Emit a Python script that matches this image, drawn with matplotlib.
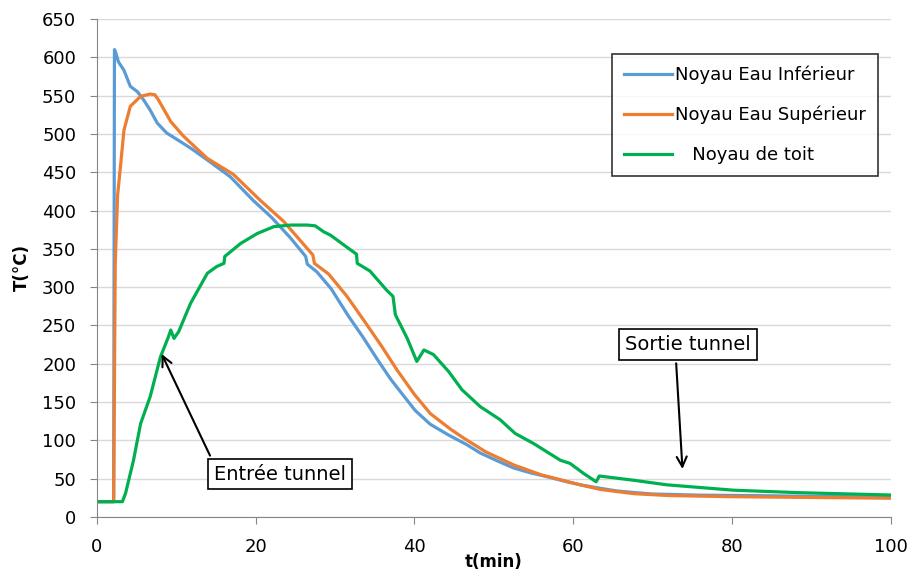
import matplotlib.pyplot as plt

# time (min) / temperature (degC)
t_inf = [0, 2.1, 2.2, 2.3, 2.7, 3.4, 4.2, 5.1, 5.9, 6.7, 7.6, 8.8, 10.5, 12.0, 13.9, 16.8,
         19.7, 22.0, 24.4, 26.3, 26.5, 27.7, 29.5, 31.7, 33.5, 35.5, 37.0, 38.5, 40.1, 42.0,
         44.3, 46.5, 48.3, 50.5, 52.5, 54.5, 56.7, 59.2, 61.0, 63.4, 65.5, 67.6, 70, 76, 82,
         90, 100]
T_inf = [20, 20, 610, 608, 594, 583, 562, 555, 544, 531, 514, 501, 490, 480, 466, 444,
         413, 391, 364, 340, 330, 320, 298, 262, 235, 203, 180, 160, 139, 121,
         107, 95, 83.5, 73, 64, 58, 52.6, 46, 41.8, 37.5, 34, 32, 30, 28.5, 28,
         27, 26]

t_sup = [0, 2.1, 2.3, 2.6, 3.0, 3.4, 4.2, 5.5, 6.7, 7.3, 7.7, 8.2, 9.3, 10.9, 13.9, 17.2,
         20.6, 23.5, 27.2, 27.4, 29.2, 31.5, 33.6, 35.8, 37.8, 40.0, 42.0, 44.5, 46.2, 49.0,
         52.5, 56.0, 60.9, 63.4, 67.6, 72, 80, 90, 100]
T_sup = [20, 20, 331, 420, 462, 505, 536, 549, 552, 551, 545, 536, 516, 497, 468, 447,
         413, 386, 342, 331, 317, 288, 257, 224, 192, 160, 135, 115, 103, 85,
         68, 55, 42, 36, 30.5, 28, 26.5, 25.5, 24.5]

t_toit = [0, 3.2, 3.6, 4.6, 5.5, 6.7, 8.0, 9.0, 9.3, 9.7, 10.3, 10.9, 11.8, 13.9, 15.1, 16.0,
          16.1, 18.1, 20.2, 22.3, 24.4, 26.5, 27.5, 28.6, 29.4, 31.9, 32.7, 32.8, 34.4, 36.5,
          37.3, 37.6, 39.1, 40.3, 41.2, 42.4, 44.3, 46.0, 48.3, 50.8, 52.7, 55.0, 58.4, 59.6,
          61.3, 62.9, 63.3, 67.6, 71.8, 80.2, 88.6, 100]
T_toit = [20, 20, 31, 74, 122, 157, 209, 235, 244, 233, 242, 257, 279, 318, 327, 331,
          340, 357, 370, 379, 381, 381, 380, 372, 368, 349, 343, 331, 321, 296,
          288, 264, 233, 203, 218, 212, 190, 166, 144, 127, 109, 96, 74, 70,
          57, 46, 53.5, 48, 42, 35, 31.7, 28.7]

labels = ['Noyau Eau Inférieur', 'Noyau Eau Supérieur', '   Noyau de toit']
colors = ['#5B9BD5', '#ED7D31', '#00B050']

plt.rcParams['font.family'] = 'DejaVu Sans'

fig = plt.figure(figsize=(9.09, 5.74), dpi=100)
ax = fig.add_axes([0.1067, 0.0993, 0.873, 0.8677])

ax.plot(t_inf, T_inf, color=colors[0], lw=2.3, label=labels[0])
ax.plot(t_sup, T_sup, color=colors[1], lw=2.3, label=labels[1])
ax.plot(t_toit, T_toit, color=colors[2], lw=2.3, label=labels[2])

ax.set_xlim(0, 100)
ax.set_ylim(0, 650)
ax.set_xticks(range(0, 101, 20))
ax.set_yticks(range(0, 651, 50))
ax.grid(axis='y', color='#D9D9D9', lw=1)
ax.set_axisbelow(True)
for s in ['top', 'right']:
    ax.spines[s].set_visible(False)
for s in ['left', 'bottom']:
    ax.spines[s].set_color('#868686')
ax.tick_params(colors='#868686', labelcolor='black', labelsize=13, length=5, pad=10)

ax.set_ylabel('T(°C)', fontsize=12, fontweight='bold')
ax.yaxis.set_label_coords(-0.0945, 0.5)
ax.yaxis.label.set_va('center')
ax.set_xlabel('t(min)', fontsize=12, fontweight='bold')
ax.xaxis.set_label_coords(0.5, -0.0904)
ax.xaxis.label.set_va('center')

leg = ax.legend(loc='upper left', bbox_to_anchor=(0.649, 0.683, 0.335, 0.247), mode='expand',
                fontsize=13, frameon=True, fancybox=False, edgecolor='black',
                labelspacing=1.2, handlelength=2.65, handletextpad=0.2, borderpad=0.65,
                borderaxespad=0)
leg.get_frame().set_linewidth(1.2)

box = dict(boxstyle='square,pad=0.3', fc='white', ec='black', lw=1.2)
ax.annotate('Entrée tunnel', xy=(8.0, 216), xytext=(23.1, 56), ha='center', va='center',
            fontsize=14, bbox=box,
            arrowprops=dict(arrowstyle='->', color='black', lw=1.5, relpos=(0, 1),
                            mutation_scale=18))
ax.annotate('Sortie tunnel', xy=(73.8, 59), xytext=(74.5, 225), ha='center', va='center',
            fontsize=14, bbox=box,
            arrowprops=dict(arrowstyle='->', color='black', lw=1.5, relpos=(0.4, 0),
                            mutation_scale=18))

fig.savefig('out.png', dpi=100)
